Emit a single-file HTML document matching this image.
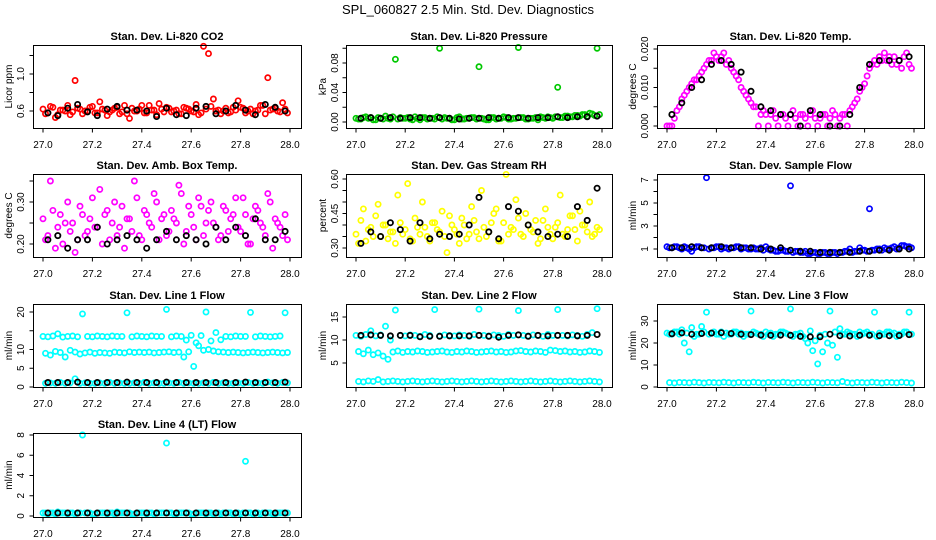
<!DOCTYPE html>
<html><head><meta charset="utf-8"><style>
body{margin:0;background:#fff;}
svg{display:block;font-family:"Liberation Sans",sans-serif;}
</style></head><body>
<svg id="chart" width="936" height="540" viewBox="0 0 936 540" xmlns="http://www.w3.org/2000/svg">
<rect x="0" y="0" width="936" height="540" fill="#fff"/>
<text x="468" y="14" font-size="13" text-anchor="middle">SPL_060827  2.5 Min. Std. Dev. Diagnostics</text>
</svg>
<script>
// shared time grids
const tGrid = [27.00,27.02,27.04,27.06,27.08,27.10,27.12,27.14,27.16,27.18,27.20,27.22,27.24,27.26,27.28,27.30,27.32,27.34,27.36,27.38,27.40,27.42,27.44,27.46,27.48,27.50,27.52,27.54,27.56,27.58,27.60,27.62,27.64,27.66,27.68,27.70,27.72,27.74,27.76,27.78,27.80,27.82,27.84,27.86,27.88,27.90,27.92,27.94,27.96,27.98];
const tGridB = [27.01,27.03,27.05,27.07,27.09,27.11,27.13,27.15,27.17,27.19,27.21,27.23,27.25,27.27,27.29,27.31,27.33,27.35,27.37,27.39,27.41,27.43,27.45,27.47,27.49,27.51,27.53,27.55,27.57,27.59,27.61,27.63,27.65,27.67,27.69,27.71,27.73,27.75,27.77,27.79,27.81,27.83,27.85,27.87,27.89,27.91,27.93,27.95,27.97,27.99];
const tBlack = [27.02,27.06,27.10,27.14,27.18,27.22,27.26,27.30,27.34,27.38,27.42,27.46,27.50,27.54,27.58,27.62,27.66,27.70,27.74,27.78,27.82,27.86,27.90,27.94,27.98];
const xTicks = [27.0,27.2,27.4,27.6,27.8,28.0];

// CO2
const co2A = [0.62,0.58,0.64,0.56,0.61,0.66,0.59,0.63,0.57,0.60,0.65,0.58,0.62,0.55,0.61,0.64,0.59,0.57,0.63,0.60,0.66,0.58,0.61,0.56,0.62,0.64,0.59,0.61,0.57,0.63,0.60,0.67,0.58,0.62,0.65,0.60,0.57,0.63,0.59,0.61,0.64,0.58,0.62,0.60,0.66,0.57,0.61,0.63,0.59,0.62];
const co2B = [0.57,0.65,0.53,0.61,0.60,0.56,0.93,0.62,0.60,0.64,0.58,0.70,0.61,0.59,0.63,0.57,0.66,0.52,0.60,0.62,0.58,0.66,0.61,0.68,0.59,0.63,0.60,0.57,0.64,0.62,0.59,0.56,1.30,1.22,0.73,0.61,0.60,0.58,0.64,0.71,0.63,0.60,0.57,0.61,0.66,0.96,0.62,0.60,0.69,0.58];
const co2K = [0.58,0.55,0.63,0.67,0.59,0.55,0.62,0.65,0.61,0.61,0.60,0.54,0.63,0.56,0.55,0.63,0.65,0.57,0.60,0.66,0.61,0.56,0.67,0.64,0.60];
// Pressure
const presG = [0.005,0.004,0.007,0.006,0.003,0.005,0.008,0.004,0.085,0.006,0.005,0.004,0.007,0.003,0.006,0.005,0.004,0.100,0.006,0.005,0.003,0.007,0.004,0.005,0.006,0.075,0.004,0.003,0.006,0.005,0.007,0.004,0.005,0.101,0.006,0.004,0.005,0.003,0.006,0.007,0.005,0.047,0.006,0.008,0.007,0.009,0.010,0.008,0.011,0.100];
const presG2 = [0.004,0.006,0.005,0.003,0.006,0.004,0.005,0.007,0.004,0.005,0.006,0.003,0.005,0.006,0.004,0.005,0.007,0.004,0.005,0.003,0.006,0.004,0.005,0.006,0.004,0.005,0.003,0.006,0.004,0.005,0.006,0.004,0.005,0.006,0.004,0.005,0.006,0.007,0.005,0.006,0.007,0.006,0.008,0.007,0.009,0.008,0.010,0.012,0.009,0.010];
const presK = [0.005,0.006,0.005,0.006,0.005,0.006,0.006,0.005,0.006,0.005,0.004,0.005,0.005,0.006,0.005,0.006,0.006,0.005,0.006,0.006,0.007,0.006,0.007,0.007,0.008];
// Li-820 temp
const tempA = [0.000,0.000,0.004,0.007,0.009,0.011,0.012,0.014,0.016,0.017,0.018,0.018,0.016,0.015,0.013,0.010,0.008,0.006,0.005,0.003,0.003,0.003,0.002,0.003,0.002,0.003,0.002,0.003,0.002,0.003,0.002,0.002,0.003,0.002,0.003,0.002,0.003,0.004,0.006,0.009,0.011,0.015,0.017,0.018,0.019,0.018,0.018,0.017,0.018,0.016];
const tempB = [0.000,0.002,0.005,0.008,0.010,0.012,0.013,0.015,0.017,0.019,0.017,0.019,0.017,0.014,0.012,0.009,0.007,0.005,0.000,0.004,0.000,0.004,0.000,0.003,0.000,0.004,0.000,0.003,0.000,0.004,0.000,0.003,0.000,0.004,0.000,0.003,0.000,0.005,0.007,0.010,0.013,0.016,0.016,0.017,0.017,0.016,0.016,0.015,0.019,0.015];
const tempK = [0.003,0.006,0.010,0.012,0.016,0.017,0.016,0.014,0.009,0.005,0.004,0.003,0.003,0.000,0.004,0.003,0.000,0.000,0.003,0.010,0.016,0.017,0.017,0.017,0.018];
// Amb box temp
const boxA = [0.26,0.22,0.28,0.24,0.20,0.30,0.25,0.21,0.27,0.23,0.31,0.24,0.20,0.28,0.25,0.22,0.29,0.26,0.23,0.31,0.21,0.27,0.24,0.30,0.26,0.22,0.28,0.25,0.32,0.23,0.27,0.21,0.29,0.25,0.30,0.24,0.22,0.28,0.26,0.31,0.23,0.27,0.20,0.29,0.25,0.22,0.30,0.26,0.24,0.27];
const boxB = [0.21,0.35,0.19,0.27,0.25,0.23,0.18,0.29,0.22,0.26,0.24,0.33,0.27,0.21,0.30,0.24,0.19,0.26,0.35,0.22,0.28,0.25,0.32,0.21,0.27,0.23,0.26,0.34,0.20,0.29,0.24,0.31,0.22,0.28,0.25,0.21,0.29,0.23,0.27,0.24,0.31,0.20,0.26,0.28,0.24,0.32,0.19,0.25,0.22,0.21];
const boxK = [0.21,0.22,0.19,0.21,0.21,0.24,0.20,0.21,0.22,0.21,0.19,0.21,0.23,0.21,0.22,0.21,0.20,0.24,0.21,0.24,0.22,0.26,0.21,0.21,0.23];
// RH
const rhA = [0.36,0.42,0.33,0.39,0.44,0.35,0.40,0.37,0.32,0.41,0.38,0.34,0.43,0.36,0.39,0.33,0.41,0.37,0.35,0.44,0.38,0.32,0.40,0.36,0.42,0.34,0.39,0.37,0.45,0.33,0.41,0.36,0.38,0.43,0.35,0.40,0.37,0.32,0.42,0.39,0.34,0.41,0.36,0.38,0.44,0.33,0.40,0.37,0.35,0.39];
const rhB = [0.32,0.47,0.38,0.35,0.49,0.40,0.34,0.37,0.53,0.36,0.58,0.33,0.39,0.50,0.35,0.41,0.38,0.46,0.28,0.40,0.36,0.43,0.34,0.48,0.37,0.55,0.35,0.41,0.47,0.33,0.62,0.39,0.51,0.36,0.45,0.38,0.42,0.34,0.47,0.36,0.39,0.53,0.35,0.44,0.38,0.46,0.40,0.50,0.36,0.38];
const rhK = [0.32,0.37,0.35,0.41,0.38,0.33,0.41,0.34,0.36,0.35,0.36,0.40,0.52,0.37,0.34,0.48,0.46,0.40,0.37,0.35,0.36,0.35,0.48,0.42,0.56];
// Sample flow
const sfB = [1.2,1.1,1.2,1.0,1.1,0.8,1.2,1.1,7.2,1.1,1.2,1.0,1.1,1.1,1.2,1.0,1.1,1.0,1.0,1.1,1.2,0.9,0.8,0.9,0.8,6.5,0.8,0.7,0.8,0.6,0.7,0.6,0.7,0.6,0.7,0.7,0.8,1.0,0.8,1.1,0.9,4.5,0.9,1.0,1.1,1.0,1.2,1.1,1.3,1.2];
const sfB2 = [1.1,1.2,1.1,1.2,1.0,1.1,1.2,1.1,1.0,1.1,1.2,1.1,1.0,1.1,1.2,1.1,1.0,1.1,1.0,0.9,1.0,0.9,0.8,0.9,0.8,0.7,0.8,0.7,0.6,0.7,0.6,0.7,0.6,0.7,0.6,0.7,0.8,0.7,0.8,0.9,0.8,0.9,1.0,0.9,1.0,1.1,1.0,1.3,1.2,1.1];
const sfK = [1.1,1.1,1.2,1.1,1.1,1.2,1.1,1.1,1.1,1.0,1.0,1.1,0.9,0.8,0.8,0.7,0.7,0.7,0.7,0.8,0.8,0.9,0.9,1.0,1.0];
// Line 1
const l1A = [13.5,13.4,13.6,14.2,13.3,13.5,13.6,13.4,19.5,13.5,13.4,13.6,13.5,13.4,13.6,13.5,13.5,19.8,13.4,13.6,13.5,13.4,13.6,13.5,13.5,20.7,13.4,13.6,13.5,12.5,13.8,11.8,13.7,20.0,12.3,14.5,12.6,13.5,13.4,13.6,13.5,13.5,19.9,13.4,13.6,13.5,13.4,13.5,13.6,19.8];
const l1B = [9.0,8.5,9.5,9.2,8.0,9.8,9.3,8.8,9.1,9.3,9.0,9.2,9.1,9.0,9.3,9.2,9.1,9.4,9.2,9.3,9.2,9.3,9.1,9.2,9.3,9.4,9.2,9.3,8.0,9.4,5.5,11.0,9.8,10.0,9.6,9.4,9.3,9.2,9.3,9.2,9.1,9.2,9.3,9.2,9.1,9.2,9.3,9.2,9.1,9.2];
const l1C = [1.0,1.1,1.0,1.2,1.0,1.1,2.2,1.0,1.1,1.0,1.0,1.1,1.0,1.2,1.0,1.1,1.0,1.0,1.1,1.0,1.2,1.0,1.1,1.0,1.0,1.1,1.0,1.2,1.0,1.1,1.0,1.0,1.1,1.0,1.2,1.0,1.1,1.0,1.0,1.1,1.0,1.2,1.0,1.1,1.0,1.3,1.1,1.0,1.2,1.1];
const l1K = [1.2,1.2,1.2,1.3,1.2,1.2,1.2,1.2,1.3,1.2,1.2,1.2,1.3,1.2,1.2,1.2,1.2,1.2,1.2,1.2,1.3,1.2,1.2,1.2,1.3];
// Line 2
const l2A = [11.0,10.8,11.2,12.0,10.9,11.1,13.0,10.0,16.5,11.0,10.9,11.1,11.0,10.8,11.2,11.0,16.6,10.9,11.1,11.0,10.9,11.1,11.0,10.8,11.2,16.7,11.0,10.9,11.1,11.0,10.8,11.2,11.0,16.4,11.0,10.9,11.1,11.0,10.8,11.2,11.0,16.6,11.0,10.9,11.1,11.0,10.8,11.2,11.6,16.8];
const l2B = [7.5,7.0,7.8,6.8,7.2,6.5,5.8,7.4,7.6,7.3,7.5,7.4,7.6,7.5,7.3,7.4,7.5,7.6,7.4,7.3,7.5,7.4,7.6,7.5,7.3,7.4,7.5,7.6,7.4,7.5,7.3,7.4,7.6,7.7,7.5,7.4,7.6,7.5,7.3,7.8,7.7,7.5,7.6,7.4,7.5,7.3,7.4,7.6,7.5,7.3];
const l2C = [1.0,0.9,1.1,1.0,1.4,0.9,1.0,1.1,1.0,0.9,1.0,1.1,1.0,0.9,1.0,1.1,1.0,0.9,1.0,1.1,1.0,0.9,1.0,1.1,1.0,0.9,1.0,1.1,1.0,0.9,1.0,1.1,1.0,0.9,1.0,1.1,1.0,0.9,1.0,1.1,1.0,0.9,1.0,1.1,1.0,0.9,1.0,1.1,1.0,0.9];
const l2K = [11.0,11.1,11.0,10.9,11.0,11.0,10.7,10.8,10.8,10.9,10.9,10.9,11.0,10.8,10.6,11.0,11.1,10.8,11.0,10.9,11.0,11.0,10.9,11.0,11.2];
// Line 3
const l3A = [24.5,24.0,25.0,26.0,24.5,27.0,24.0,27.5,34.0,24.5,24.0,25.0,24.5,24.0,25.0,24.5,24.0,34.5,24.5,24.0,25.0,24.5,24.0,25.0,24.5,35.5,24.0,24.5,22.0,25.5,21.0,23.5,24.0,34.5,25.0,26.5,24.0,24.5,24.0,25.0,24.5,24.0,34.0,24.5,24.0,25.0,24.5,24.0,25.0,34.0];
const l3B = [24.0,25.0,24.0,20.0,16.0,23.0,24.0,25.0,24.0,25.0,24.0,23.0,24.0,25.0,24.0,23.0,24.0,25.0,24.0,23.0,24.0,23.0,24.0,25.0,24.0,23.0,24.0,23.0,20.0,16.5,10.5,16.0,20.0,19.0,13.5,24.0,25.0,24.0,23.0,24.0,25.0,24.0,23.0,24.0,25.0,24.0,23.0,24.0,25.0,24.0];
const l3C = [2.0,1.8,2.1,2.0,1.9,2.2,2.0,1.8,2.1,2.0,1.9,2.2,2.0,1.8,2.1,2.0,1.9,2.2,2.0,1.8,2.1,2.0,1.9,2.2,2.0,1.8,2.1,2.0,1.9,2.2,2.0,1.8,2.1,2.0,1.9,2.5,2.0,1.8,2.1,2.0,1.9,2.2,2.0,1.8,2.1,2.0,1.9,2.2,2.0,1.8];
const l3K = [24.2,24.6,24.0,24.3,24.5,24.7,24.3,24.0,23.8,23.6,23.5,23.6,23.5,23.0,22.8,22.8,24.0,23.3,23.2,23.5,23.5,23.3,23.3,23.4,23.8];
// Line 4
const l4A = [0.3,0.2,0.3,0.4,0.3,0.2,0.3,0.3,8.0,0.3,0.2,0.3,0.3,0.2,0.3,0.4,0.3,0.3,0.2,0.3,0.3,0.2,0.3,0.3,0.3,7.2,0.3,0.2,0.3,0.3,0.2,0.3,0.3,0.2,0.3,0.3,0.2,0.3,0.3,0.3,0.2,5.4,0.3,0.3,0.2,0.3,0.3,0.2,0.3,0.3];
const l4B = [0.3,0.3,0.2,0.3,0.3,0.3,0.2,0.3,0.3,0.3,0.2,0.3,0.3,0.3,0.2,0.3,0.3,0.3,0.2,0.3,0.3,0.3,0.2,0.3,0.3,0.3,0.2,0.3,0.3,0.3,0.2,0.3,0.3,0.3,0.2,0.3,0.3,0.3,0.2,0.3,0.3,0.3,0.2,0.3,0.3,0.3,0.2,0.3,0.3,0.3];
const l4K = [0.3,0.3,0.3,0.3,0.3,0.3,0.3,0.3,0.3,0.3,0.3,0.3,0.3,0.3,0.3,0.3,0.3,0.3,0.3,0.3,0.3,0.3,0.3,0.3,0.3];

const NS = "http://www.w3.org/2000/svg";
const svg = document.getElementById('chart');
function mk(tag, attrs, parent){ const e=document.createElementNS(NS,tag); for(const k in attrs) e.setAttribute(k,attrs[k]); (parent||svg).appendChild(e); return e; }

const cols = [{bx0:33,bx1:301,t0:43,t1:290,lab:8,tl:20},{bx0:346,bx1:612,t0:356,t1:602,lab:322,tl:334},{bx0:657,bx1:924,t0:667,t1:914,lab:632,tl:644}];
const rows = [{y0:45,y1:128},{y0:174,y1:257},{y0:304,y1:387},{y0:433,y1:517}];

const panels = [
 {name:'co2',title:'Stan. Dev. Li-820 CO2',ylab:'Licor ppm',c:0,r:0,a:[0.6,111,1.0,74],ticks:[0.6,0.8,1.0,1.2],labels:['0.6',null,'1.0',null],series:[[co2A,'#ff0000',tGrid],[co2B,'#ff0000',tGridB],[co2K,'#000',tBlack]]},
 {name:'pressure',title:'Stan. Dev. Li-820 Pressure',ylab:'kPa',c:1,r:0,a:[0,122,0.08,63],ticks:[0,0.02,0.04,0.06,0.08,0.10],labels:['0.00',null,'0.04',null,'0.08',null],series:[[presG,'#00c800',tGrid],[presG2,'#00c800',tGridB],[presK,'#000',tBlack]]},
 {name:'li820-temp',title:'Stan. Dev. Li-820 Temp.',ylab:'degrees C',c:2,r:0,a:[0,126,0.02,49],ticks:[0,0.005,0.01,0.015,0.02],labels:['0.000',null,'0.010',null,'0.020'],series:[[tempA,'#ff00ff',tGrid],[tempB,'#ff00ff',tGridB],[tempK,'#000',tBlack]]},
 {name:'box-temp',title:'Stan. Dev. Amb. Box Temp.',ylab:'degrees C',c:0,r:1,a:[0.2,244,0.3,202],ticks:[0.2,0.25,0.3,0.35],labels:['0.20',null,'0.30',null],series:[[boxA,'#ff00ff',tGrid],[boxB,'#ff00ff',tGridB],[boxK,'#000',tBlack]]},
 {name:'gas-rh',title:'Stan. Dev. Gas Stream RH',ylab:'percent',c:1,r:1,a:[0.3,248,0.6,179],ticks:[0.3,0.35,0.4,0.45,0.5,0.55,0.6],labels:['0.30',null,null,'0.45',null,null,'0.60'],series:[[rhA,'#ffff00',tGrid],[rhB,'#ffff00',tGridB],[rhK,'#000',tBlack]]},
 {name:'sample-flow',title:'Stan. Dev. Sample Flow',ylab:'ml/min',c:2,r:1,a:[1,249,7,180],ticks:[1,2,3,4,5,6,7],labels:['1',null,'3',null,'5',null,'7'],series:[[sfB,'#0000ff',tGrid],[sfB2,'#0000ff',tGridB],[sfK,'#000',tBlack]]},
 {name:'line1-flow',title:'Stan. Dev. Line 1 Flow',ylab:'ml/min',c:0,r:2,a:[0,387,20,312],ticks:[0,5,10,15,20],labels:['0','5','10',null,'20'],series:[[l1A,'#00ffff',tGrid],[l1B,'#00ffff',tGridB],[l1C,'#00ffff',tGridB],[l1K,'#000',tBlack]]},
 {name:'line2-flow',title:'Stan. Dev. Line 2 Flow',ylab:'ml/min',c:1,r:2,a:[5,363,15,317],ticks:[5,10,15],labels:['5','10','15'],series:[[l2A,'#00ffff',tGrid],[l2B,'#00ffff',tGridB],[l2C,'#00ffff',tGridB],[l2K,'#000',tBlack]]},
 {name:'line3-flow',title:'Stan. Dev. Line 3 Flow',ylab:'ml/min',c:2,r:2,a:[0,387,30,321],ticks:[0,10,20,30],labels:['0','10','20','30'],series:[[l3A,'#00ffff',tGrid],[l3B,'#00ffff',tGridB],[l3C,'#00ffff',tGridB],[l3K,'#000',tBlack]]},
 {name:'line4-flow',title:'Stan. Dev. Line 4 (LT) Flow',ylab:'ml/min',c:0,r:3,a:[0,516,8,435],ticks:[0,2,4,6,8],labels:['0','2','4','6','8'],series:[[l4A,'#00ffff',tGrid],[l4B,'#00ffff',tGridB],[l4K,'#000',tBlack]]}
];

panels.forEach(p=>{
  const C=cols[p.c], R=rows[p.r];
  const xs = v => C.t0 + (v-27)*(C.t1-C.t0);
  const ys = v => p.a[1] + (v-p.a[0])*(p.a[3]-p.a[1])/(p.a[2]-p.a[0]);
  const g = mk('g',{});
  
  
  const cx=(C.bx0+C.bx1)/2;
  const t = mk('text',{x:cx,y:R.y0-5,'font-size':11,'font-weight':'bold','text-anchor':'middle'},g);
  t.textContent=p.title;
  
  
  const yl = mk('text',{x:0,y:0,'font-size':10,'text-anchor':'middle',transform:`translate(${C.lab+4},${(R.y0+R.y1)/2}) rotate(-90)`},g);
  yl.textContent=p.ylab;
  
  
  const pts = mk('g',{fill:'none'},g);
  
  
  p.series.forEach(s=>{
    const vals=s[0], col=s[1], tx=s[2];
    const sw = col==='#000' ? 1.8 : 1.7;
    vals.forEach((v,i)=>{
      const c = mk('circle',{cx:xs(tx[i]).toFixed(1),cy:ys(v).toFixed(1),r:2.6,stroke:col,'stroke-width':sw},pts);
      
      
    });
  });
  const b = mk('rect',{x:C.bx0+0.5,y:R.y0+0.5,width:C.bx1-C.bx0,height:R.y1-R.y0,fill:'none',stroke:'#000','stroke-width':1},g);
  
  
  xTicks.forEach(v=>{
    const x=xs(v);
    mk('line',{x1:x,x2:x,y1:R.y1+0.5,y2:R.y1+4.5,stroke:'#000'},g);
    const tl = mk('text',{x:x,y:R.y1+20,'font-size':10,'text-anchor':'middle'},g);
    tl.textContent=v.toFixed(1);
    
    
  });
  p.ticks.forEach((v,i)=>{
    const y=ys(v);
    mk('line',{x1:C.bx0+0.5,x2:C.bx0-3.5,y1:y,y2:y,stroke:'#000'},g);
    if(p.labels[i]){
      const tl = mk('text',{x:0,y:0,'font-size':10,'text-anchor':'middle',transform:`translate(${C.tl+4},${y}) rotate(-90)`},g);
      tl.textContent=p.labels[i];
      
      
    }
  });
});
</script>
</body></html>
